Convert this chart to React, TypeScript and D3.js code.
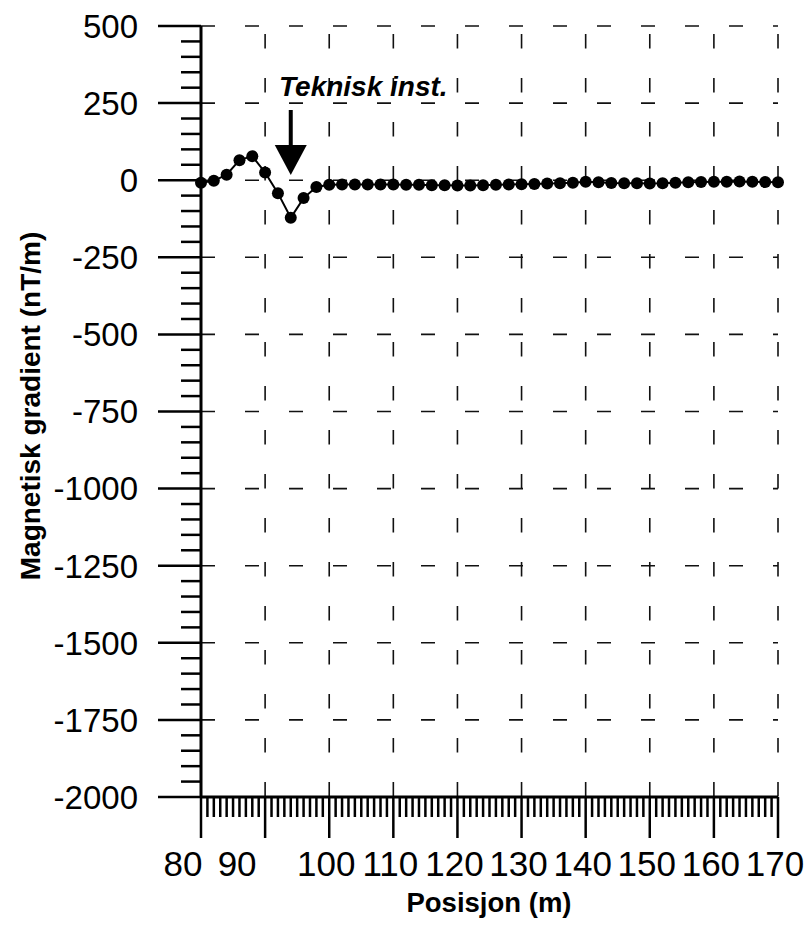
import React from "react";
import * as d3 from "d3";

const positions = [80,82,84,86,88,90,92,94,96,98,100,102,104,106,108,110,112,114,116,118,120,122,124,126,128,130,132,134,136,138,140,142,144,146,148,150,152,154,156,158,160,162,164,166,168,170];
const gradient = [-8,-2,18,65,78,25,-42,-122,-58,-22,-15,-14,-14,-14,-14,-14,-15,-15,-16,-16,-17,-17,-16,-15,-14,-13,-12,-11,-10,-8,-5,-7,-9,-10,-10,-11,-10,-8,-7,-6,-5,-5,-4,-5,-6,-7];
const xTicks = [80,90,100,110,120,130,140,150,160,170];
const yTicks = [500,250,0,-250,-500,-750,-1000,-1250,-1500,-1750,-2000];
const xTitle = "Posisjon (m)";
const yTitle = "Magnetisk gradient (nT/m)";
const annotation = "Teknisk inst.";
const annotationX = 94;

const W = 811, H = 933;
const FONT = "'Liberation Sans', Arial, sans-serif";

export default function App() {
  const x = d3.scaleLinear().domain([80, 170]).range([201, 778]);
  const y = d3.scaleLinear().domain([-2000, 500]).range([797, 26]);
  const line = d3.line<number>().x((_, i) => x(positions[i])).y((d) => y(d));
  const minorX = d3.range(80, 171, 1);
  const minorY = d3.range(-2000, 501, 50);
  const x0 = x(80), x1 = x(170), yb = y(-2000), yt = y(500);
  const ax = x(annotationX);
  const labelX = (t: number) => (t < 100 ? x(t) - 18 - (t === 80 ? 0 : 10) : x(t) - 3);
  return (
    <svg width={W} height={H} style={{ position: "absolute", left: 0, top: 0, background: "#fff" }}>
      {xTicks.slice(1).map((t) => (
        <line key={"gx" + t} x1={x(t)} x2={x(t)} y1={yt} y2={yb} stroke="#111" strokeWidth={1.6} strokeDasharray="14.5,29.5" strokeDashoffset={36} />
      ))}
      {yTicks.slice(0, -1).map((t) => (
        <line key={"gy" + t} x1={x0} x2={x1} y1={y(t)} y2={y(t)} stroke="#111" strokeWidth={1.6} strokeDasharray="14,30" />
      ))}
      {minorY.map((t) => {
        const major = t % 250 === 0;
        return <line key={"ty" + t} x1={x0 - (major ? 43 : 20)} x2={x0} y1={y(t)} y2={y(t)} stroke="#000" strokeWidth={2.5} />;
      })}
      {minorX.map((t) => {
        const major = t % 10 === 0;
        return <line key={"tx" + t} x1={x(t)} x2={x(t)} y1={yb} y2={yb + (major ? 41 : 20)} stroke="#000" strokeWidth={2.5} />;
      })}
      <line x1={x0} x2={x0} y1={yt} y2={yb} stroke="#000" strokeWidth={3} />
      <line x1={x0} x2={x1} y1={yb} y2={yb} stroke="#000" strokeWidth={3} />
      {yTicks.map((t) => (
        <text key={"ly" + t} x={138} y={y(t)} dy="0.36em" textAnchor="end" fontFamily={FONT} fontSize={33} fill="#000">{t}</text>
      ))}
      {xTicks.map((t) => (
        <text key={"lx" + t} x={labelX(t)} y={876} textAnchor="middle" fontFamily={FONT} fontSize={35} fill="#000">{t}</text>
      ))}
      <text x={489} y={912} textAnchor="middle" fontFamily={FONT} fontWeight="bold" fontSize={27.5} fill="#000">{xTitle}</text>
      <text transform={`translate(40,406) rotate(-90)`} textAnchor="middle" fontFamily={FONT} fontWeight="bold" fontSize={28} fill="#000">{yTitle}</text>
      <path d={line(gradient) || ""} fill="none" stroke="#000" strokeWidth={2} />
      {gradient.map((v, i) => (
        <circle key={"p" + i} cx={x(positions[i])} cy={y(v)} r={6} fill="#000" />
      ))}
      <text x={279} y={96} fontFamily={FONT} fontWeight="bold" fontStyle="italic" fontSize={28} fill="#000">{annotation}</text>
      <line x1={ax} x2={ax} y1={110} y2={148} stroke="#000" strokeWidth={4} />
      <path d={`M${ax - 16},145 L${ax + 16},145 L${ax},175 Z`} fill="#000" />
    </svg>
  );
}
